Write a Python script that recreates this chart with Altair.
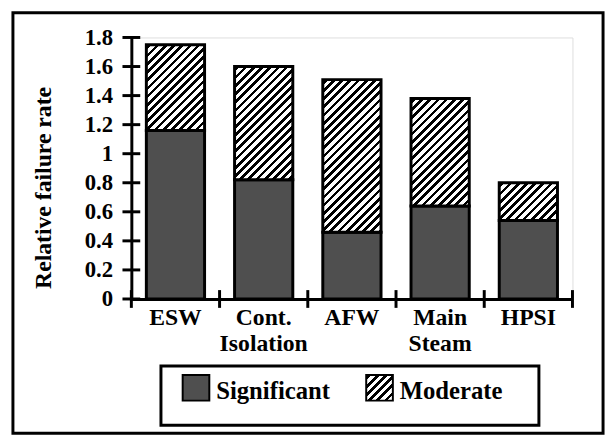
import math
import altair as alt
import pandas as pd

# ---- data ----
categories = ["ESW", "Cont. Isolation", "AFW", "Main Steam", "HPSI"]
significant = [1.16, 0.82, 0.46, 0.64, 0.54]
totals = [1.75, 1.60, 1.51, 1.38, 0.80]
y_ticks = [0, 0.2, 0.4, 0.6, 0.8, 1, 1.2, 1.4, 1.6, 1.8]
legend_labels = ["Significant", "Moderate"]
y_title = "Relative failure rate"

# ---- layout / style ----
W, H = 447, 265
Y_MAX = 1.8
PAD_INNER = 0.34
FONT = "Liberation Serif"
WEIGHT = "bold"
SIG_FILL = "#4f4f4f"

df = pd.DataFrame({"category": categories, "significant": significant, "total": totals})

step = W / len(categories)
bandwidth = step * (1 - PAD_INNER)
px_per_unit = H / Y_MAX
half_gap = PAD_INNER * step / 2


def hatch(w, h, period=8.3, frac=0.45):
    L = w + h
    a = (w + h) / (w * w + h * h)
    stops = []
    k = 0
    while True:
        s = (k * period + 2) / L
        e = (k * period + 2 + frac * period) / L
        if s >= 1:
            break
        e = min(e, 1.0)
        stops += [
            {"offset": s, "color": "white"},
            {"offset": s, "color": "black"},
            {"offset": e, "color": "black"},
            {"offset": e, "color": "white"},
        ]
        k += 1
    if not stops or stops[0]["offset"] > 0:
        stops = [{"offset": 0, "color": "white"}] + stops
    stops.append({"offset": 1, "color": "white"})
    return {"gradient": "linear", "x1": 0, "y1": 0, "x2": a * w, "y2": a * h, "stops": stops}


x_axis = alt.Axis(
    title=None, labelAngle=0, labelFont=FONT, labelFontSize=24, labelFontWeight=WEIGHT,
    labelColor="black", labelExpr="split(datum.label, ' ')", labelLineHeight=26,
    labelPadding=7, labelBaseline="top", labelOverlap=False, ticks=False, tickSize=0,
    domainColor="black", domainWidth=3,
)
y_axis = alt.Axis(
    values=y_ticks, format="~g", grid=False, ticks=False, tickSize=0,
    labelFont=FONT, labelFontSize=23, labelFontWeight=WEIGHT, labelColor="black",
    labelPadding=19, labelOverlap=False, labelFlush=False,
    domainColor="black", domainWidth=3,
    title=y_title, titleFont=FONT, titleFontSize=24, titleFontWeight=WEIGHT,
    titleColor="black", titleAngle=270, titleX=-89, titleY=152,
    titleAlign="center", titleBaseline="middle",
)
x_scale = alt.Scale(paddingInner=PAD_INNER, paddingOuter=PAD_INNER / 2)
y_scale = alt.Scale(domain=[0, Y_MAX], nice=False)


def X(**kw):
    return alt.X("category:N", sort=categories, scale=x_scale, axis=x_axis, **kw)


def Y(field):
    return alt.Y(field, scale=y_scale, axis=y_axis)


base = alt.Chart(df)

sig_layer = base.mark_bar(fill=SIG_FILL, stroke="black", strokeWidth=3).encode(
    x=X(), y=Y("significant:Q")
)

mod_layers = []
for c, s, t in zip(categories, significant, totals):
    h = (t - s) * px_per_unit
    mod_layers.append(
        base.transform_filter(alt.datum.category == c)
        .mark_bar(fill=hatch(bandwidth, h), stroke="black", strokeWidth=3)
        .encode(x=X(), y=Y("total:Q"), y2="significant:Q")
    )

ytick_layer = alt.Chart(pd.DataFrame({"v": y_ticks})).mark_tick(
    orient="horizontal", size=18, thickness=3, color="black", opacity=1
).encode(y=Y("v:Q"), x=alt.value(0))

xtick_layer = base.mark_tick(
    orient="vertical", size=18, thickness=3, color="black", opacity=1, xOffset=-half_gap
).encode(x=X(bandPosition=0), y=alt.value(H))
xtick_end = base.transform_filter(alt.datum.category == categories[-1]).mark_tick(
    orient="vertical", size=18, thickness=3, color="black", opacity=1, xOffset=half_gap
).encode(x=X(bandPosition=1), y=alt.value(H))

one = alt.Chart(pd.DataFrame({"a": [0]}))
frame = one.mark_rect(fillOpacity=0, stroke="black", strokeWidth=3).encode(
    x=alt.value(-120), x2=alt.value(478), y=alt.value(-25), y2=alt.value(401)
)
legend_box = one.mark_rect(fillOpacity=0, stroke="black", strokeWidth=3).encode(
    x=alt.value(30), x2=alt.value(413), y=alt.value(333), y2=alt.value(393)
)
sw_sig = one.mark_rect(fill=SIG_FILL, stroke="black", strokeWidth=2).encode(
    x=alt.value(52), x2=alt.value(79), y=alt.value(342), y2=alt.value(368)
)
sw_mod = one.mark_rect(fill=hatch(27, 26), stroke="black", strokeWidth=2).encode(
    x=alt.value(238), x2=alt.value(265), y=alt.value(342), y2=alt.value(368)
)
txt_sig = alt.Chart(pd.DataFrame({"label": [legend_labels[0]]})).mark_text(
    font=FONT, fontSize=25, fontWeight=WEIGHT, color="black", align="left", baseline="alphabetic"
).encode(text="label:N", x=alt.value(86), y=alt.value(366))
txt_mod = alt.Chart(pd.DataFrame({"label": [legend_labels[1]]})).mark_text(
    font=FONT, fontSize=25, fontWeight=WEIGHT, color="black", align="left", baseline="alphabetic"
).encode(text="label:N", x=alt.value(272), y=alt.value(366))

chart = alt.layer(
    sig_layer, *mod_layers, ytick_layer, xtick_layer, xtick_end,
    frame, legend_box, sw_sig, sw_mod, txt_sig, txt_mod,
).properties(
    width=W, height=H,
    autosize=alt.AutoSizeParams(type="none"),
    padding={"left": 125, "top": 27, "right": 35, "bottom": 138},
).configure_view(strokeWidth=0).configure(background="white")

chart.save("out.html", embed_options={"renderer": "svg", "actions": False})
